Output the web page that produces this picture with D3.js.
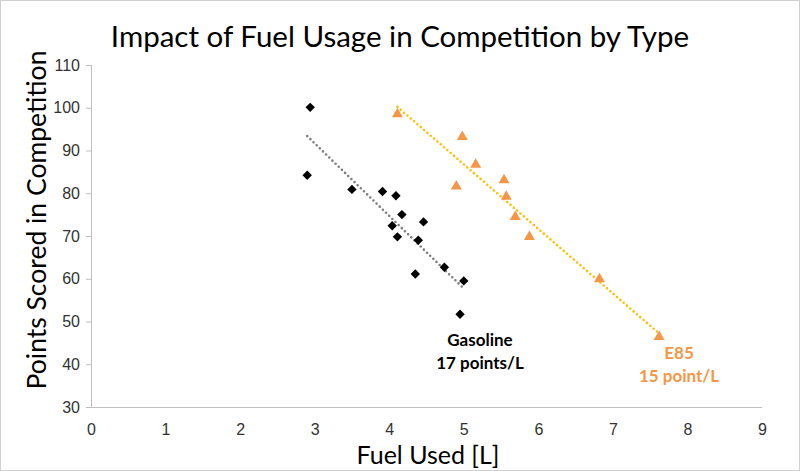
<!DOCTYPE html>
<html lang="en">
<head>
    <meta charset="UTF-8">
    <title>Impact of Fuel Usage in Competition by Type</title>
    <script src="https://cdn.jsdelivr.net/npm/d3@7/dist/d3.min.js"></script>
    <style>
        body { margin: 0; background: #fff; }
        svg { display: block; font-family: Lato, "Noto Sans", sans-serif; }
        .axis path, .axis line { stroke: #bfbfbf; }
        .axis text { fill: #333; font-size: 16px; }
    </style>
</head>
<body>
<script>
    // canvas size
    const width = 800;
    const height = 471;

    // gasoline runs
    const gasFuel = [2.94, 2.90, 3.50, 3.91, 4.09, 4.17, 4.04, 4.11, 4.46, 4.39, 4.74, 4.35, 5.00, 4.95];
    const gasPoints = [100.1, 84.2, 80.9, 80.4, 79.4, 75.0, 72.4, 69.8, 73.3, 69.0, 62.7, 61.1, 59.5, 51.7];

    // E85 runs
    const e85Fuel = [4.11, 4.98, 5.16, 4.90, 5.54, 5.57, 5.69, 5.88, 6.82, 7.62];
    const e85Points = [98.5, 93.2, 86.7, 81.6, 83.1, 79.2, 74.5, 69.8, 59.9, 46.4];

    const xTicks = [0, 1, 2, 3, 4, 5, 6, 7, 8, 9];
    const yTicks = [30, 40, 50, 60, 70, 80, 90, 100, 110];

    const margin = {left: 91, right: 38, top: 65, bottom: 64};

    let svg = d3.select('body')
        .append('svg')
        .attr('width', width)
        .attr('height', height);

    // outer frame
    svg.append('rect')
        .attr('x', 0.5).attr('y', 0.5)
        .attr('width', width - 1).attr('height', height - 1)
        .attr('fill', '#fff')
        .attr('stroke', '#d0d0d0');

    let x = d3.scaleLinear().domain([0, 9]).range([margin.left, width - margin.right]);
    let y = d3.scaleLinear().domain([30, 110]).range([height - margin.bottom, margin.top]);

    // axes
    svg.append('g')
        .attr('class', 'axis')
        .attr('transform', `translate(0,${height - margin.bottom})`)
        .call(d3.axisBottom(x).tickValues(xTicks).tickSize(0).tickPadding(17))
        .call(g => g.select('.domain').attr('d', `M${x(0)},0.5H${x(9)}`));

    svg.append('g')
        .attr('class', 'axis')
        .attr('transform', `translate(${margin.left},0)`)
        .call(d3.axisLeft(y).tickValues(yTicks).tickSize(5).tickSizeOuter(0).tickPadding(6))
        .call(g => g.select('.domain').attr('d', `M0.5,${y(30)}V${y(110)}`));

    // least squares trendline over the data's x range
    function trend (xs, ys) {
        let mx = d3.mean(xs), my = d3.mean(ys);
        let sxy = d3.sum(xs, (v, i) => (v - mx) * (ys[i] - my));
        let sxx = d3.sum(xs, v => (v - mx) * (v - mx));
        let b = sxy / sxx, a = my - b * mx;
        let ex = d3.extent(xs);
        return ex.map(v => [v, a + b * v]);
    }

    let line = d3.line().x(d => x(d[0])).y(d => y(d[1]));

    svg.append('path')
        .attr('d', line(trend(gasFuel, gasPoints)))
        .attr('fill', 'none')
        .attr('stroke', '#7f7f7f')
        .attr('stroke-width', 2.6)
        .attr('stroke-linecap', 'round')
        .attr('stroke-dasharray', '0 4.4');

    svg.append('path')
        .attr('d', line(trend(e85Fuel, e85Points)))
        .attr('fill', 'none')
        .attr('stroke', '#ffc000')
        .attr('stroke-width', 2.6)
        .attr('stroke-linecap', 'round')
        .attr('stroke-dasharray', '0 4.4');

    // gasoline diamonds
    svg.append('g')
        .selectAll('path')
        .data(gasFuel)
        .enter()
        .append('path')
        .attr('d', d3.symbol(d3.symbolSquare, 44)())
        .attr('transform', (d, i) => `translate(${x(d)},${y(gasPoints[i])}) rotate(45)`)
        .attr('fill', '#000');

    // E85 triangles
    svg.append('g')
        .selectAll('path')
        .data(e85Fuel)
        .enter()
        .append('path')
        .attr('d', d3.symbol(d3.symbolTriangle, 52)())
        .attr('transform', (d, i) => `translate(${x(d)},${y(e85Points[i])})`)
        .attr('fill', '#f79646');

    // title and axis labels
    svg.append('text')
        .attr('x', 400).attr('y', 47)
        .attr('text-anchor', 'middle')
        .attr('font-size', 29.5)
        .text('Impact of Fuel Usage in Competition by Type');

    svg.append('text')
        .attr('x', 428).attr('y', 464)
        .attr('text-anchor', 'middle')
        .attr('font-size', 25)
        .text('Fuel Used [L]');

    svg.append('text')
        .attr('transform', 'translate(46,220) rotate(-90)')
        .attr('text-anchor', 'middle')
        .attr('font-size', 26.5)
        .text('Points Scored in Competition');

    // annotations
    let notes = svg.append('g')
        .attr('font-size', 17)
        .attr('font-weight', 'bold')
        .attr('text-anchor', 'middle');

    notes.append('text').attr('x', 480).attr('y', 346).text('Gasoline');
    notes.append('text').attr('x', 480).attr('y', 369).text('17 points/L');
    notes.append('text').attr('x', 679).attr('y', 359).attr('fill', '#f79646').text('E85');
    notes.append('text').attr('x', 679).attr('y', 382).attr('fill', '#f79646').text('15 point/L');
</script>
</body>
</html>
